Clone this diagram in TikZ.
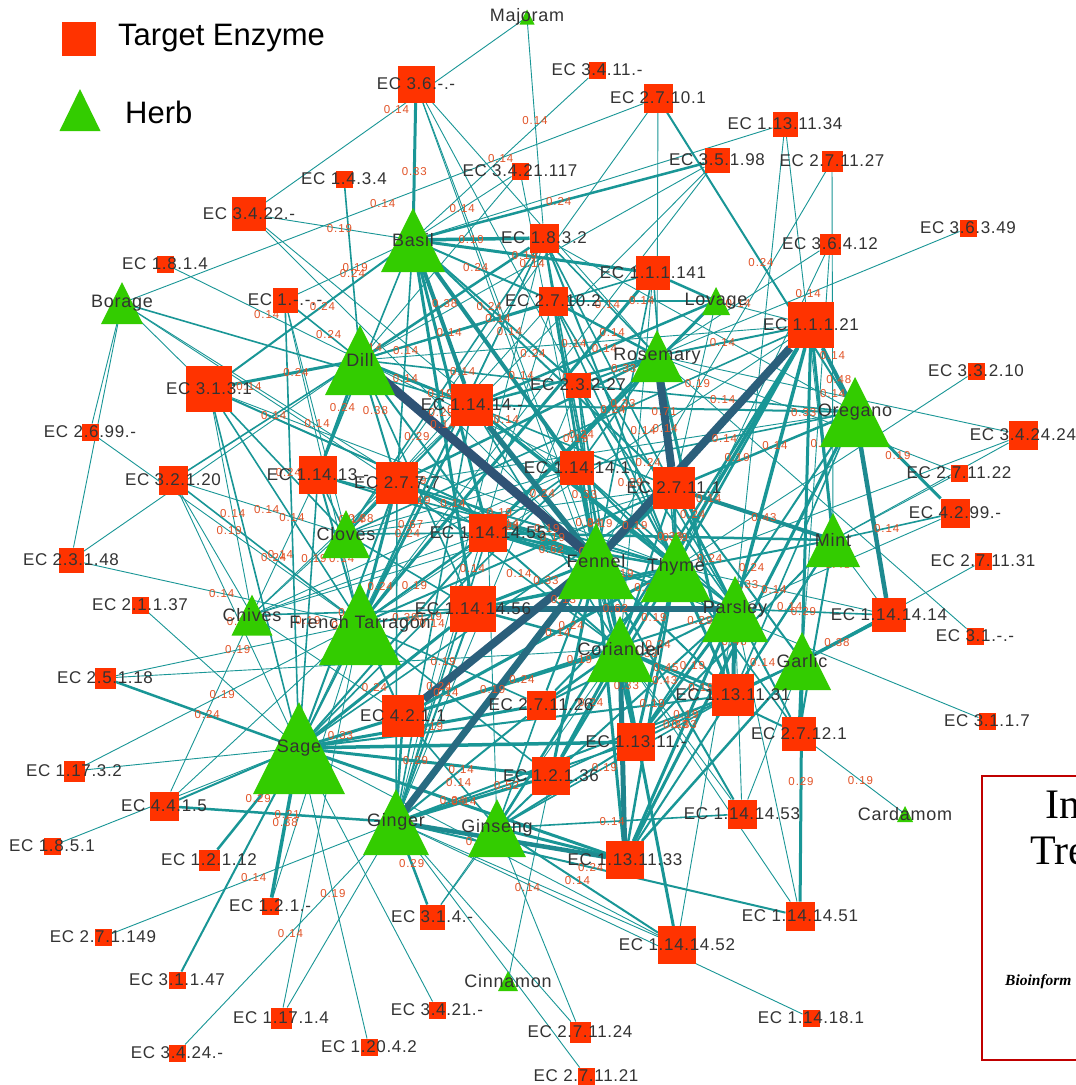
\documentclass[tikz,border=0pt]{standalone}
\usepackage{fontspec}
\setmainfont{Liberation Sans}
\newfontfamily\labfont[LetterSpace=4]{Liberation Sans}
\newfontfamily\numfont[LetterSpace=8]{Liberation Sans}
\newfontfamily\paperfont{Liberation Serif}
\usetikzlibrary{calc}

\pgfdeclarelayer{bg}
\pgfdeclarelayer{edges}
\pgfdeclarelayer{elabels}
\pgfdeclarelayer{labels}
\pgfsetlayers{bg,edges,elabels,main,labels}

\definecolor{enzred}{RGB}{255,51,0}
\definecolor{herbgreen}{RGB}{51,204,0}
\definecolor{linkteal}{RGB}{25,150,150}
\definecolor{linkdark}{RGB}{47,82,117}
\definecolor{numred}{RGB}{226,84,40}
\definecolor{labgray}{RGB}{51,51,51}
\definecolor{framered}{RGB}{192,0,0}

\tikzset{
  enzbox/.style={rectangle, fill=enzred, inner sep=0pt, outer sep=0pt},
  nlab/.style={text=labgray, font={\labfont\fontsize{17}{17}\selectfont}, inner sep=0pt},
  hlab/.style={text=labgray, font={\labfont\fontsize{18}{18}\selectfont}, inner sep=0pt},
  elab/.style={text=numred, font={\numfont\fontsize{11.5}{11.5}\selectfont}, inner sep=0.5pt},
  link/.style={draw=linkteal, line cap=butt},
  legendtext/.style={text=black, font={\fontsize{31}{31}\selectfont}, anchor=west, inner sep=0pt},
}

% enzyme: name, x, y, side, text
\newcommand\mkenz[5]{%
  \node[enzbox, minimum size=#4] (#1) at (#2,#3) {};
  \begin{pgfonlayer}{labels}\node[nlab] (#1-t) at (#1) {#5};\end{pgfonlayer}}
% herb: name, x, y, width (= height), text
\newcommand\mkherb[5]{%
  \coordinate (#1) at (#2,#3);
  \fill[herbgreen] (#2-#4/2,#3+#4/2) -- (#2,#3-#4/2) -- (#2+#4/2,#3+#4/2) -- cycle;
  \begin{pgfonlayer}{labels}\node[hlab] (#1-t) at (#1) {#5};\end{pgfonlayer}}

% links: thin ones (from/to/weight label)
\def\thinlinks{maj/e3422/0.14, maj/e1832/0.14, e36/fen/0.14, e36/thy/, e36/cor/0.14, e36/ros/,
 e3411/bas/0.14, e27101/bor/0.14, e27101/clo/, e27101/ros/, e131134/par/, e131134/min/0.14, e131134/bas/,
 e35198/dil/0.14, e35198/clo/, e35198/ftr/, e271127/fen/, e271127/min/0.14, e3421117/bas/0.14, e3421117/fen/,
 e3421117/dil/, e3422/bas/0.19, e3422/fen/, e3422/thy/0.14, e1814/dil/0.14, e36412/ros/0.14, e36412/gar/,
 e36412/thy/, e36349/ros/0.14, bor/e3131/, bor/e1141455/, bor/e2777/0.14, bor/e2699/, bor/e23148/,
 e2699/ftr/0.19, e23148/dil/, e32120/clo/0.14, e32120/sag/0.19, e32120/chi/, e23148/ftr/0.14,
 e21137/sag/, e25118/ftr/0.19, e25118/cor/, e11732/sag/, e11732/ftr/0.19, e4415/chi/, e4415/ftr/,
 e1851/sag/, e121/ftr/, e271149/gin/0.14, e3424/gin/0.14, e11714/gin/, e11714/ftr/, e12042/sag/0.19,
 e3421/sag/, e314/gis/, e314/cor/, e271124/gin/, e271124/gis/, e271121/gin/, cin/e12136/0.14,
 e114181/gin/, e1141452/par/, e1141452/gin/, e1141452/sag/0.14, e1141451/par/, e1141451/cor/,
 e1141453/cor/0.33, e1141453/par/, e1141453/gar/, car/e27121/0.19, e3117/fen/, e31/ros/,
 e271131/gar/, e33210/thy/, e342424/ros/0.14, e342424/min/, e342424/thy/, e271122/min/,
 e271122/ros/0.33, e4299/par/0.48, e1141414/thy/0.14, e1141414/min/, e11121/dil/0.14, e11121/lov/,
 e11121/ftr/, e27111/clo/0.19, e27111/lov/0.19, e114141/dil/0.38, e114141/clo/0.14, e2777/ore/,
 e111141/cor/, e3131/chi/0.14, e3131/thy/, e1/bas/0.19, e1/clo/0.14, e1/ftr/, e4211/chi/, e27102/clo/0.14,
 e1832/ore/, e11413/chi/0.14, e2777/chi/0.19, e1141455/chi/, e27111/chi/, e11414/chi/0.14,
 e114141/chi/, e1141455/gis/0.19, e23227/gin/, e27102/gin/0.14, e1832/gin/, e1832/sag/0.19}

% links: medium ones (from/to/width/label)
\def\midlinks{e36/bas/3/0.33, e27101/ore/2/0.24, e35198/bas/2.5/0.24, e1434/dil/1.6/0.24,
 e32120/dil/1.6/0.14, e32120/ftr/1.6/0.24, e25118/sag/2.5/0.24, e4415/sag/2/, e4415/gin/2.5/0.21,
 e12112/sag/2.5/0.29, e121/sag/3.5/0.38, e31147/sag/2/, e314/gin/2.5/0.29, e1141452/cor/3/,
 e1141452/gis/2/0.14, e1141451/gin/2/0.24, e1141451/gar/3/0.29, e1141453/gis/1.6/0.14,
 e1141453/fen/2/0.43, ore/e4299/3/0.19, e4299/min/1.6/0.14, e1141414/gar/3.5/0.38,
 e1141414/par/1.6/0.29, bor/e11414/1.6/, e3131/dil/3/0.24, e3131/bas/2/0.24, e3131/clo/1.6/0.24,
 e3131/ftr/1.6/0.14, e3131/sag/1.6/, e3131/fen/2/0.19, e1/sag/1.6/, e1/dil/1.6/0.24,
 e11121/min/3/0.33, e11121/par/3.5/, e11121/cor/3.5/0.14, e11121/thy/2.5/0.19, e11121/gar/3/,
 e11121/ros/2/0.14, e11121/gis/2.5/0.24, e11121/clo/1.6/,
 e27111/thy/3/0.29, e27111/par/2.5/0.24, e27111/cor/2/, e27111/ore/2.5/0.14, e27111/dil/1.6/0.14,
 e27111/bas/2/0.24, e27111/ftr/2/, e27111/sag/1.6/0.19, e27111/gar/2/0.33,
 e114141/fen/3/0.24, e114141/ros/1.6/0.33, e114141/thy/2/0.19, e114141/cor/2/0.29, e114141/par/1.6/,
 e114141/ore/1.6/0.14, e114141/sag/1.6/0.19, e114141/ftr/1.6/,
 e11414/dil/3/0.14, e11414/ros/2.5/0.24, e11414/thy/3/0.33, e11414/clo/1.6/0.14, e11414/ftr/2/0.67,
 e11414/sag/2/0.24, e11414/lov/2.5/0.14, e11414/par/2/, e11414/cor/1.6/0.19, e11414/ore/2/, e11414/gin/1.6/0.14,
 e2777/dil/2/0.38, e2777/fen/3/0.24, e2777/ros/2.5/, e2777/thy/2/0.19, e2777/clo/2/0.38, e2777/ftr/3/,
 e2777/sag/2/0.19, e2777/bas/1.6/0.14, e2777/par/1.6/, e2777/cor/1.6/0.14, e2777/gin/1.6/,
 e11413/dil/3/0.24, e11413/bas/1.6/0.14, e11413/clo/1.6/, e11413/ftr/2/0.14, e11413/sag/1.6/0.19,
 e11413/fen/2/, e11413/thy/1.6/0.14,
 e1141455/fen/3/0.62, e1141455/thy/2.5/0.29, e1141455/bas/3/, e1141455/dil/2/0.29,
 e1141455/clo/1.6/0.24, e1141455/ftr/2/0.19, e1141455/ros/2.5/0.24, e1141455/lov/3/,
 e1141455/min/2.5/0.33, e1141455/cor/2/0.13, e1141455/par/1.6/0.19, e1141455/sag/2/, e1141455/gin/1.6/0.24,
 e1141456/fen/3/0.33, e1141456/thy/3/, e1141456/ftr/2/0.38, e1141456/sag/3/0.24, e1141456/chi/1.6/0.19,
 e1141456/clo/1.6/, e1141456/bas/3/0.29, e1141456/dil/1.6/, e1141456/cor/2.5/0.14,
 e1141456/gin/2/0.19, e1141456/min/2/,
 e23227/bas/2/0.24, e23227/dil/1.6/0.14, e23227/ros/2/0.33, e23227/fen/1.6/, e23227/thy/2/0.29,
 e23227/cor/1.6/0.19, e23227/par/1.6/, e23227/ore/1.6/0.14,
 e1832/bas/3.5/0.19, e1832/dil/2.5/0.38, e1832/fen/2/, e1832/thy/2/0.24, e1832/ros/1.6/0.14,
 e1832/cor/1.6/, e1832/clo/1.6/0.19, e1832/ftr/1.6/, e1832/par/1.6/0.14,
 e27102/bas/2/0.24, e27102/dil/2/0.14, e27102/ros/2.5/0.14, e27102/fen/2/0.19, e27102/thy/1.6/,
 e27102/lov/1.6/0.14, e27102/cor/1.6/, e27102/par/1.6/0.24,
 e111141/bas/3/0.19, e111141/ftr/3/, e111141/thy/1.6/0.14, e111141/lov/2.5/, e111141/dil/1.6/0.14,
 e111141/fen/1.6/,
 e4211/sag/3/0.33, e4211/gin/2.5/, e4211/ftr/2/0.19, e4211/cor/3/0.24, e4211/thy/3/, e4211/par/2/0.19,
 e4211/gis/1.6/0.14,
 e271126/sag/3/0.29, e271126/cor/2.5/, e271126/fen/2/0.24, e271126/gin/2/0.14, e271126/thy/2/,
 e271126/par/2/0.33, e271126/ftr/1.6/0.19, e271126/gis/1.6/,
 e12136/sag/3/0.29, e12136/gin/3/0.14, e12136/gis/2/, e12136/cor/3/0.24, e12136/fen/3/, e12136/thy/2.5/0.33,
 e12136/par/2/, e12136/ftr/1.6/0.14, e12136/gar/1.6/0.19,
 e11311/sag/3.5/, e11311/cor/3/0.33, e11311/thy/3/0.24, e11311/par/3/0.19, e11311/fen/2.5/,
 e11311/gin/2/0.52, e11311/gar/2/0.19, e11311/gis/2/0.14, e11311/min/2/, e11311/ore/2/0.24,
 e131131/thy/3/0.29, e131131/cor/3/0.45, e131131/gar/2/, e131131/ros/3/0.24, e131131/fen/2/0.19,
 e131131/min/2/0.14, e131131/sag/2/, e131131/gin/2/0.33, e131131/ore/1.6/, e131131/gis/1.6/0.19,
 e27121/gar/3/, e27121/par/2/0.14, e27121/min/2/, e27121/cor/2/0.19, e27121/thy/1.6/,
 e131133/gis/3/, e131133/sag/3/0.24, e131133/par/3/0.33, e131133/gar/2.5/, e131133/thy/2.5/0.19,
 e131133/fen/3/, e131133/ore/3/0.29, e131133/min/2/}

% links: heavy ones, darker as they get wider
\def\heavylinks{e131133/cor/5/, e131133/gin/4.5/, e11121/ore/4/0.48, e27111/min/4/0.43,
 e27111/fen/4/, e114141/bas/4/, e11414/bas/4/, e1141414/ore/4.5/, e131131/par/4/0.48,
 e11414/fen/5.5/0.24, e1141456/par/6.5/0.62, e11121/fen/8/, e27111/ros/8/0.71, dil/fen/9/,
 e4211/fen/8/, gin/fen/7/}

\begin{document}
\begin{tikzpicture}[x=1pt, y=-1pt]
\useasboundingbox (0,0) rectangle (1076,1085);
\begin{pgfonlayer}{bg}
  \fill[white] (0,0) rectangle (1076,1085);
\end{pgfonlayer}

% ---- enzymes ----
\mkenz{e36}{416}{84}{37}{EC 3.6.-.-}
\mkenz{e3411}{597}{70}{17}{EC 3.4.11.-}
\mkenz{e27101}{658}{98}{29}{EC 2.7.10.1}
\mkenz{e131134}{785}{124}{25}{EC 1.13.11.34}
\mkenz{e35198}{717}{160}{25}{EC 3.5.1.98}
\mkenz{e271127}{832}{161}{21}{EC 2.7.11.27}
\mkenz{e3421117}{520}{171}{17}{EC 3.4.21.117}
\mkenz{e1434}{344}{179}{17}{EC 1.4.3.4}
\mkenz{e3422}{249}{214}{34}{EC 3.4.22.-}
\mkenz{e1814}{165}{264}{17}{EC 1.8.1.4}
\mkenz{e1832}{544}{238}{29}{EC 1.8.3.2}
\mkenz{e36412}{830}{244}{21}{EC 3.6.4.12}
\mkenz{e36349}{968}{228}{17}{EC 3.6.3.49}
\mkenz{e111141}{653}{273}{34}{EC 1.1.1.141}
\mkenz{e1}{285}{300}{25}{EC 1.-.-.-}
\mkenz{e27102}{553}{301}{29}{EC 2.7.10.2}
\mkenz{e11121}{811}{325}{46}{EC 1.1.1.21}
\mkenz{e3131}{209}{389}{46}{EC 3.1.3.1}
\mkenz{e11414}{472}{405}{42}{EC 1.14.14.-}
\mkenz{e23227}{578}{385}{25}{EC 2.3.2.27}
\mkenz{e33210}{976}{371}{17}{EC 3.3.2.10}
\mkenz{e342424}{1023}{435}{29}{EC 3.4.24.24}
\mkenz{e2699}{90}{432}{17}{EC 2.6.99.-}
\mkenz{e32120}{173}{480}{29}{EC 3.2.1.20}
\mkenz{e11413}{318}{475}{38}{EC 1.14.13.-}
\mkenz{e2777}{397}{483}{42}{EC 2.7.7.7}
\mkenz{e114141}{577}{468}{34}{EC 1.14.14.1}
\mkenz{e27111}{674}{488}{42}{EC 2.7.11.1}
\mkenz{e271122}{959}{473}{17}{EC 2.7.11.22}
\mkenz{e4299}{955}{513}{29}{EC 4.2.99.-}
\mkenz{e1141455}{488}{533}{38}{EC 1.14.14.55}
\mkenz{e23148}{71}{560}{25}{EC 2.3.1.48}
\mkenz{e271131}{983}{561}{17}{EC 2.7.11.31}
\mkenz{e21137}{140}{605}{17}{EC 2.1.1.37}
\mkenz{e1141456}{473}{609}{46}{EC 1.14.14.56}
\mkenz{e1141414}{889}{615}{34}{EC 1.14.14.14}
\mkenz{e31}{975}{636}{17}{EC 3.1.-.-}
\mkenz{e25118}{105}{678}{21}{EC 2.5.1.18}
\mkenz{e271126}{541}{705}{29}{EC 2.7.11.26}
\mkenz{e4211}{403}{716}{42}{EC 4.2.1.1}
\mkenz{e131131}{733}{695}{42}{EC 1.13.11.31}
\mkenz{e3117}{987}{721}{17}{EC 3.1.1.7}
\mkenz{e27121}{799}{734}{34}{EC 2.7.12.1}
\mkenz{e11311}{636}{742}{38}{EC 1.13.11.-}
\mkenz{e11732}{74}{771}{21}{EC 1.17.3.2}
\mkenz{e12136}{551}{776}{38}{EC 1.2.1.36}
\mkenz{e4415}{164}{806}{29}{EC 4.4.1.5}
\mkenz{e1141453}{742}{814}{29}{EC 1.14.14.53}
\mkenz{e1851}{52}{846}{17}{EC 1.8.5.1}
\mkenz{e12112}{209}{860}{21}{EC 1.2.1.12}
\mkenz{e131133}{625}{860}{38}{EC 1.13.11.33}
\mkenz{e121}{270}{906}{17}{EC 1.2.1.-}
\mkenz{e271149}{103}{937}{17}{EC 2.7.1.149}
\mkenz{e314}{432}{917}{25}{EC 3.1.4.-}
\mkenz{e1141451}{800}{916}{29}{EC 1.14.14.51}
\mkenz{e1141452}{677}{945}{38}{EC 1.14.14.52}
\mkenz{e31147}{177}{980}{17}{EC 3.1.1.47}
\mkenz{e11714}{281}{1018}{21}{EC 1.17.1.4}
\mkenz{e3421}{437}{1010}{17}{EC 3.4.21.-}
\mkenz{e114181}{811}{1018}{17}{EC 1.14.18.1}
\mkenz{e271124}{580}{1032}{21}{EC 2.7.11.24}
\mkenz{e3424}{177}{1053}{17}{EC 3.4.24.-}
\mkenz{e12042}{369}{1047}{17}{EC 1.20.4.2}
\mkenz{e271121}{586}{1076}{17}{EC 2.7.11.21}

% ---- herbs ----
\mkherb{maj}{527}{17}{15}{Majoram}
\mkherb{bas}{413}{240}{64}{Basil}
\mkherb{bor}{122}{303}{42}{Borage}
\mkherb{dil}{360}{360}{70}{Dill}
\mkherb{lov}{716}{301}{28}{Lovage}
\mkherb{ros}{657}{356}{52}{Rosemary}
\mkherb{ore}{855}{412}{70}{Oregano}
\mkherb{clo}{346}{534}{48}{Cloves}
\mkherb{fen}{596}{561}{76}{Fennel}
\mkherb{thy}{676}{567}{70}{Thyme}
\mkherb{min}{833}{540}{54}{Mint}
\mkherb{chi}{252}{615}{41}{Chives}
\mkherb{ftr}{360}{624}{82}{French Tarragon}
\mkherb{par}{735}{609}{66}{Parsley}
\mkherb{cor}{620}{649}{66}{Coriander}
\mkherb{gar}{802}{661}{58}{Garlic}
\mkherb{sag}{299}{748}{92}{Sage}
\mkherb{gin}{396}{822}{66}{Ginger}
\mkherb{gis}{497}{828}{58}{Ginseng}
\mkherb{car}{905}{814}{16}{Cardamom}
\mkherb{cin}{508}{981}{20}{Cinnamon}

% ---- links ----
\begin{pgfonlayer}{edges}
  \foreach \a/\b/\l in \thinlinks {\draw[link, line width=0.9pt] (\a) -- (\b);}
  \foreach \a/\b/\w/\l in \midlinks {\draw[link, line width=\w pt] (\a) -- (\b);}
  \foreach \a/\b/\w/\l in \heavylinks {
    \pgfmathtruncatemacro\mx{min(100,max(0,(\w-3.5)*18))}
    \draw[link, line width=\w pt, draw=linkdark!\mx!linkteal] (\a) -- (\b);}
\end{pgfonlayer}
\begin{pgfonlayer}{elabels}
  \foreach \a/\b/\l in \thinlinks {\path (\a) -- node[elab] {\l} (\b);}
  \foreach \a/\b/\w/\l in \midlinks {\path (\a) -- node[elab] {\l} (\b);}
  \foreach \a/\b/\w/\l in \heavylinks {\path (\a) -- node[elab] {\l} (\b);}
\end{pgfonlayer}

% ---- legend ----
\node[enzbox, minimum size=34] (legenz) at (79,39) {};
\node[legendtext] (legenz-t) at (118,38) {Target Enzyme};
\coordinate (legherb) at (80,110);
\fill[herbgreen] (59.5,131) -- (80,89) -- (100.5,131) -- cycle;
\node[legendtext] (legherb-t) at (125,112) {Herb};

% ---- framed paper excerpt at the lower right ----
\draw[framered, line width=2pt] (982,776) rectangle (1095,1060);
\node[anchor=base west, inner sep=0pt, font={\paperfont\fontsize{42}{42}\selectfont}] (ptitle1) at (1045,818) {In};
\node[anchor=base west, inner sep=0pt, font={\paperfont\fontsize{42}{42}\selectfont}] (ptitle2) at (1030,864) {Tre};
\node[anchor=base west, inner sep=0pt, font={\paperfont\bfseries\itshape\fontsize{15.5}{15.5}\selectfont}] (pjournal) at (1005,985) {Bioinform};
\end{tikzpicture}
\end{document}
